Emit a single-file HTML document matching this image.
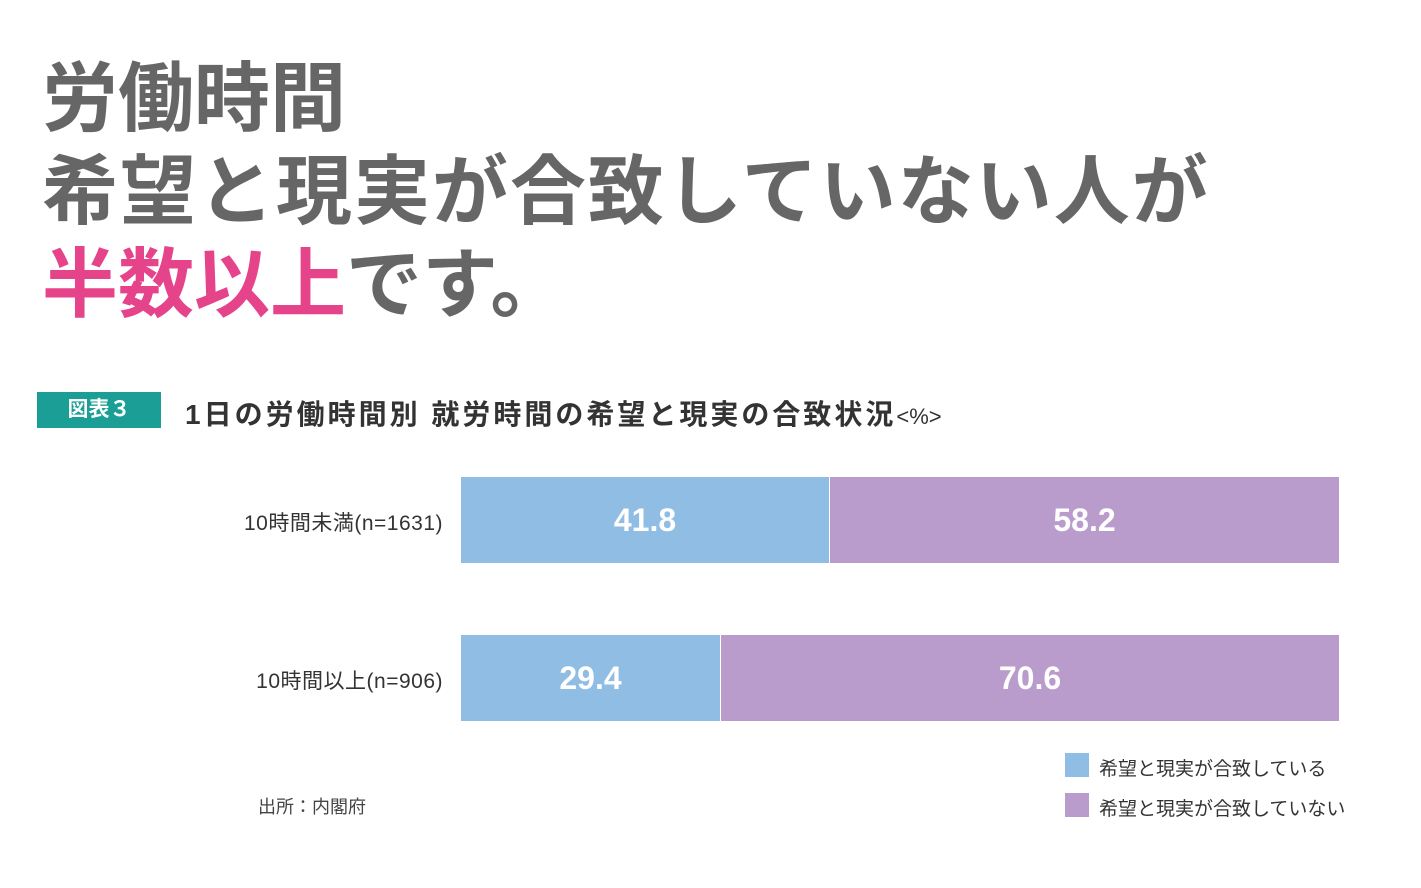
<!DOCTYPE html>
<html><head><meta charset="utf-8"><style>
body{margin:0;width:1421px;height:888px;background:#fff;position:relative;overflow:hidden;font-family:"Liberation Sans","Noto Sans CJK JP",sans-serif}
.a{position:absolute;white-space:nowrap}
.h{font-size:76px;font-weight:bold;color:#666;left:42px;line-height:1}
.bar{position:absolute;height:86px;color:#fff;font-size:32px;font-weight:bold;display:flex;align-items:center;justify-content:center}
.b{background:#8fbde3}.p{background:#b99ccb}
.lab{font-size:21px;color:#333;right:978px;letter-spacing:0.5px}
</style></head><body>
<div class="a h" style="top:62px">労働時間</div>
<div class="a h" style="top:155px;letter-spacing:2px">希望と現実が合致していない人が</div>
<div class="a h" style="top:248px"><span style="color:#e6448a">半数以上</span>です。</div>
<div class="a" style="left:37px;top:392px;width:124px;height:36px;background:#1a9e96;color:#fff;font-size:21px;font-weight:bold;line-height:36px;text-align:center">図表３</div>
<div class="a" style="left:185px;top:393px;font-size:28px;color:#333;font-weight:bold;letter-spacing:3px">1日の労働時間別 就労時間の希望と現実の合致状況<span style="font-size:22px;font-weight:normal;letter-spacing:0">&lt;%&gt;</span></div>
<div class="a lab" style="top:507px">10時間未満(n=1631)</div>
<div class="a lab" style="top:665px">10時間以上(n=906)</div>
<div class="bar b" style="left:461px;top:477px;width:368px">41.8</div>
<div class="bar p" style="left:830px;top:477px;width:509px">58.2</div>
<div class="bar b" style="left:461px;top:635px;width:259px">29.4</div>
<div class="bar p" style="left:721px;top:635px;width:618px">70.6</div>
<div class="a" style="left:1065px;top:753px;width:24px;height:24px;background:#8fbde3"></div>
<div class="a" style="left:1065px;top:793px;width:24px;height:24px;background:#b99ccb"></div>
<div class="a" style="left:1099px;top:754px;font-size:19px;color:#333">希望と現実が合致している</div>
<div class="a" style="left:1099px;top:794px;font-size:19px;color:#333">希望と現実が合致していない</div>
<div class="a" style="left:258px;top:793px;font-size:18px;color:#444">出所：内閣府</div>
</body></html>
